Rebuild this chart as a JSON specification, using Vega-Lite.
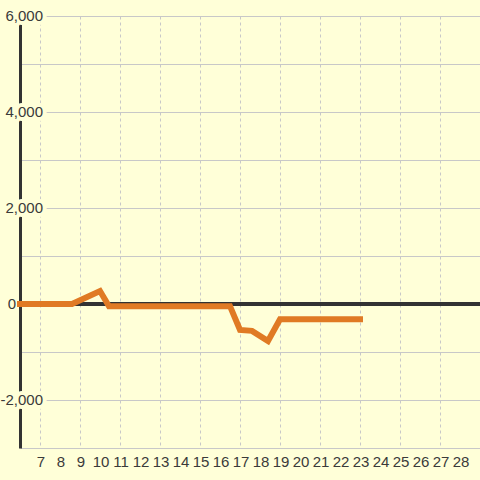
{
  "$schema": "https://vega.github.io/schema/vega-lite/v6.json",
  "width": 460,
  "height": 432,
  "autosize": {"type": "none"},
  "padding": {"left": 20, "top": 16, "right": 0, "bottom": 32},
  "background": "#ffffd8",
  "config": {
    "view": {"stroke": null},
    "font": "Liberation Sans",
    "axis": {"zindex": 0}
  },
  "datasets": {
    "series": [
      {"day": 6, "value": 0},
      {"day": 8.6, "value": 0},
      {"day": 10, "value": 270},
      {"day": 10.45, "value": -45},
      {"day": 16.5, "value": -45},
      {"day": 17, "value": -540},
      {"day": 17.6, "value": -560},
      {"day": 18.4, "value": -770},
      {"day": 19, "value": -320},
      {"day": 23, "value": -320}
    ],
    "ylabels": [
      {"v": 6000, "label": "6,000"},
      {"v": 4000, "label": "4,000"},
      {"v": 2000, "label": "2,000"},
      {"v": -2000, "label": "-2,000"}
    ],
    "zerolabel": [
      {"v": 0, "label": "0"}
    ],
    "xlabels": [
      {"d": 7}, {"d": 8}, {"d": 9}, {"d": 10}, {"d": 11}, {"d": 12}, {"d": 13}, {"d": 14},
      {"d": 15}, {"d": 16}, {"d": 17}, {"d": 18}, {"d": 19}, {"d": 20}, {"d": 21}, {"d": 22},
      {"d": 23}, {"d": 24}, {"d": 25}, {"d": 26}, {"d": 27}, {"d": 28}
    ]
  },
  "layer": [
    {
      "data": {"name": "series"},
      "mark": {"type": "rule", "color": "#333333", "strokeWidth": 3},
      "encoding": {
        "y": {
          "datum": 0,
          "type": "quantitative",
          "scale": {"domain": [-3000, 6000], "nice": false, "zero": false},
          "axis": {
            "values": [-3000, -2000, -1000, 0, 1000, 2000, 3000, 4000, 5000, 6000],
            "labels": false,
            "ticks": false,
            "title": null,
            "grid": true,
            "gridColor": "#c8c8c8",
            "domain": true,
            "domainColor": "#333333",
            "domainWidth": 3
          }
        },
        "x": {
          "datum": 6,
          "type": "quantitative",
          "scale": {"domain": [6, 29], "nice": false, "zero": false},
          "axis": {
            "values": [7, 8, 9, 10, 11, 12, 13, 14, 15, 16, 17, 18, 19, 20, 21, 22, 23, 24, 25, 26, 27, 28],
            "labels": false,
            "title": null,
            "ticks": false,
            "domain": false,
            "grid": true,
            "gridColor": "#c8c8c8",
            "gridDash": [3, 3]
          }
        },
        "x2": {"datum": 29}
      }
    },
    {
      "data": {"name": "xlabels"},
      "mark": {"type": "text", "align": "center", "baseline": "top", "font": "Liberation Sans", "fontSize": 15, "fill": "#3a3a3a", "dy": 7, "dx": 1},
      "encoding": {
        "x": {"field": "d", "type": "quantitative"},
        "y": {"datum": -3000, "type": "quantitative"},
        "text": {"field": "d", "type": "quantitative"}
      }
    },
    {
      "data": {"name": "ylabels"},
      "mark": {"type": "text", "font": "Liberation Sans", "fontSize": 15, "align": "right", "baseline": "middle", "dx": 23, "fill": "#ffffd8", "stroke": "#ffffd8", "strokeWidth": 8, "strokeJoin": "round"},
      "encoding": {
        "y": {"field": "v", "type": "quantitative"},
        "x": {"datum": 6, "type": "quantitative"},
        "text": {"field": "label"}
      }
    },
    {
      "data": {"name": "ylabels"},
      "mark": {"type": "text", "font": "Liberation Sans", "fontSize": 15, "align": "right", "baseline": "middle", "dx": 23, "fill": "#3a3a3a"},
      "encoding": {
        "y": {"field": "v", "type": "quantitative"},
        "x": {"datum": 6, "type": "quantitative"},
        "text": {"field": "label"}
      }
    },
    {
      "data": {"name": "zerolabel"},
      "mark": {"type": "text", "font": "Liberation Sans", "fontSize": 15, "align": "right", "baseline": "middle", "dx": -4, "fill": "#3a3a3a"},
      "encoding": {
        "y": {"field": "v", "type": "quantitative"},
        "x": {"datum": 6, "type": "quantitative"},
        "text": {"field": "label"}
      }
    },
    {
      "data": {"name": "series"},
      "mark": {"type": "line", "color": "#e07a24", "strokeWidth": 6, "strokeCap": "square", "clip": false},
      "encoding": {
        "x": {"field": "day", "type": "quantitative"},
        "y": {"field": "value", "type": "quantitative"}
      }
    }
  ]
}
